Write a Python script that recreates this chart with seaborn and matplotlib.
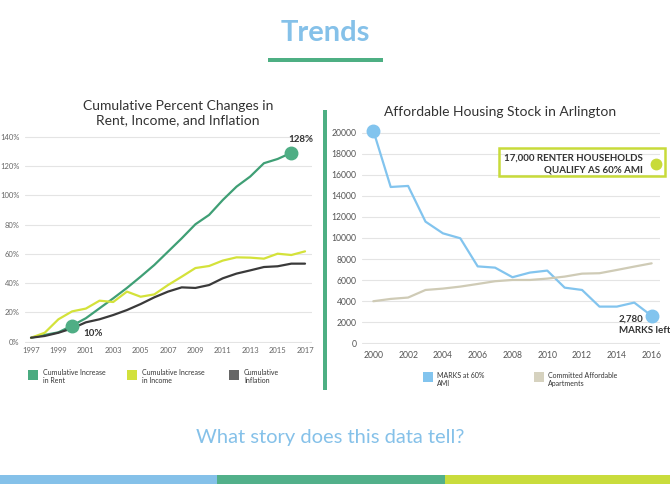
import pandas as pd
import matplotlib.pyplot as plt
import seaborn as sns
from matplotlib.patches import Rectangle

# left chart: cumulative % change since 1997
years_left = list(range(1997, 2018))
rent = [2.7, 4.6, 6.4, 11.0, 16.0, 22.8, 29.6, 36.7, 44.4, 52.4,
        61.5, 70.6, 80.2, 86.6, 96.8, 105.9, 112.8, 121.9, 124.8, 129.0]
income = [2.7, 6.1, 15.3, 20.7, 22.6, 28.0, 27.1, 34.2, 30.7, 32.3,
          38.7, 44.4, 50.3, 51.7, 55.4, 57.6, 57.4, 56.7, 60.1, 59.2, 61.7]
inflation = [2.7, 3.9, 6.1, 9.1, 13.2, 15.3, 18.2, 21.6, 25.7, 30.3,
             34.2, 37.1, 36.7, 38.7, 43.3, 46.5, 48.7, 51.0, 51.5, 53.3, 53.3]
left_labels = ["Cumulative Increase\nin Rent", "Cumulative Increase\nin Income",
               "Cumulative\nInflation"]

# right chart: affordable housing stock
years_right = list(range(2000, 2017))
marks = [20200, 14840, 14940, 11550, 10440, 9970, 7300, 7180, 6270, 6710,
         6900, 5280, 5060, 3480, 3480, 3860, 2600]
committed = [3990, 4210, 4340, 5060, 5190, 5380, 5630, 5890, 6010, 6010,
             6140, 6330, 6610, 6650, 6960, 7280, 7590]
right_labels = ["MARKS at 60%\nAMI", "Committed Affordable\nApartments"]
qualify_households = 17000

GREEN = "#3f9f75"
YELLOW = "#d4e23a"
DARK = "#3a3a3a"
BLUE = "#82c4ee"
BEIGE = "#cfcbb6"
LIME = "#c8db3a"
TXT = "#333333"

sns.set_theme(style="white")
plt.rcParams['font.family'] = ['Lato', 'DejaVu Sans']

W, H = 670, 484
fig = plt.figure(figsize=(6.7, 4.84), dpi=100)


def box(x0, y0, x1, y1):
    # pixel box (top-left origin) -> figure fraction rect
    return [x0 / W, 1 - y1 / H, (x1 - x0) / W, (y1 - y0) / H]


def fp(x, y):
    return x / W, 1 - y / H


# ---- left chart
df_left = pd.concat([
    pd.DataFrame({"year": years_left[:len(rent)], "value": rent, "series": left_labels[0]}),
    pd.DataFrame({"year": years_left, "value": income, "series": left_labels[1]}),
    pd.DataFrame({"year": years_left, "value": inflation, "series": left_labels[2]}),
])
ax1 = fig.add_axes(box(25, 135.7, 312, 342.7))
sns.lineplot(data=df_left, x="year", y="value", hue="series",
             palette=[GREEN, YELLOW, DARK], linewidth=1.6, ax=ax1, legend=False)
ax1.set_xlim(1996.56, 2017.51)
ax1.set_ylim(-0.7, 140.7)
ax1.set_yticks(range(0, 141, 20))
ax1.set_yticklabels([f"{v}%" for v in range(0, 141, 20)])
ax1.set_xticks(range(1997, 2018, 2))
ax1.yaxis.grid(True, color="#e4e4e4", lw=0.8)
ax1.set_axisbelow(True)
ax1.set_xlabel("")
ax1.set_ylabel("")
sns.despine(ax=ax1, left=True, bottom=True)
ax1.tick_params(axis="y", length=0, labelsize=5.5, labelcolor="#666666", pad=4)
ax1.tick_params(axis="x", length=0, labelsize=5.5, labelcolor="#666666", pad=3)

ax1.plot(years_left[3], rent[3], "o", ms=9, color="#4fae85", zorder=5, clip_on=False)
ax1.plot(years_left[len(rent) - 1], rent[-1], "o", ms=9, color="#4fae85", zorder=5, clip_on=False)
ax1.annotate("10%", (years_left[3], rent[3]), xytext=(8, -5.5), textcoords="offset points",
             ha="left", va="center", fontsize=7, fontweight="bold", color=TXT)
ax1.annotate("128%", (years_left[len(rent) - 1], rent[-1]), xytext=(7, 9.5),
             textcoords="offset points", ha="center", va="center", fontsize=7,
             fontweight="bold", color=TXT, annotation_clip=False)

fig.text(*fp(178, 113.5), "Cumulative Percent Changes in\nRent, Income, and Inflation",
         ha="center", va="center", fontsize=10, color=TXT)

# ---- right chart
df_right = pd.concat([
    pd.DataFrame({"year": years_right, "value": marks, "series": right_labels[0]}),
    pd.DataFrame({"year": years_right, "value": committed, "series": right_labels[1]}),
])
ax2 = fig.add_axes(box(362, 131.6, 660, 344.3))
sns.lineplot(data=df_right, x="year", y="value", hue="series",
             palette=[BLUE, BEIGE], linewidth=1.6, ax=ax2, legend=False)
ax2.set_xlim(1999.35, 2016.48)
ax2.set_ylim(-100, 20100)
ax2.set_yticks(range(0, 20001, 2000))
ax2.set_xticks(range(2000, 2017, 2))
ax2.yaxis.grid(True, color="#e4e4e4", lw=0.8)
ax2.set_axisbelow(True)
ax2.set_xlabel("")
ax2.set_ylabel("")
sns.despine(ax=ax2, left=True, bottom=True)
ax2.tick_params(axis="y", length=0, labelsize=6.2, labelcolor="#555555", pad=4)
ax2.tick_params(axis="x", length=0, labelsize=6.2, labelcolor="#555555", pad=4.5)

ax2.plot(years_right[0], marks[0], "o", ms=9, color=BLUE, zorder=5, clip_on=False)
ax2.plot(years_right[-1], marks[-1], "o", ms=9, color=BLUE, zorder=5, clip_on=False)
ax2.annotate("19,900 MARKS", (years_right[0], marks[0]), xytext=(8, 0),
             textcoords="offset points", ha="left", va="center", fontsize=7,
             fontweight="bold", color=TXT)
ax2.annotate("2,780\nMARKS left", (years_right[-1], marks[-1]), xytext=(-23.5, 1),
             textcoords="offset points", ha="left", va="top", fontsize=7,
             fontweight="bold", color=TXT, linespacing=1.3, annotation_clip=False)
ax2.plot(years_right[-1] + 0.25, qualify_households, "o", ms=7.5, color=LIME,
         zorder=5, clip_on=False)
ax2.annotate("17,000 RENTER HOUSEHOLDS\nQUALIFY AS 60% AMI",
             (years_right[-1] + 0.25, qualify_households), xytext=(-9.5, 0),
             textcoords="offset points", ha="right", va="center", fontsize=7,
             fontweight="bold", color=TXT, linespacing=1.35, annotation_clip=False)
fig.add_artist(Rectangle(fp(499, 176), 166 / W, 28 / H, transform=fig.transFigure,
                         fill=False, edgecolor=LIME, lw=1.8))

fig.text(*fp(500, 112), "Affordable Housing Stock in Arlington",
         ha="center", va="center", fontsize=10, color=TXT)

# ---- legends
for x, c, lab in zip([28, 127, 229], ["#4aab80", "#d2e13c", "#666666"], left_labels):
    fig.add_artist(Rectangle(fp(x, 380), 10 / W, 10 / H, transform=fig.transFigure,
                             facecolor=c, edgecolor="none"))
    fig.text(*fp(x + 15, 376.5), lab, ha="left", va="center", fontsize=5,
             color=TXT, linespacing=1.25)
for x, c, lab in zip([423, 534], [BLUE, "#d6d2bf"], right_labels):
    fig.add_artist(Rectangle(fp(x, 382), 10 / W, 10 / H, transform=fig.transFigure,
                             facecolor=c, edgecolor="none"))
    fig.text(*fp(x + 14, 379.5), lab, ha="left", va="center", fontsize=5,
             color=TXT, linespacing=1.25)

# ---- page furniture
fig.text(*fp(325, 33), "Trends", ha="center", va="center", fontsize=21,
         fontweight="bold", color="#85c1e9")
fig.add_artist(Rectangle(fp(268, 62), 115 / W, 4 / H, transform=fig.transFigure,
                         facecolor="#4daf83", edgecolor="none"))
fig.add_artist(Rectangle(fp(323, 390), 4 / W, 280 / H, transform=fig.transFigure,
                         facecolor="#4daf83", edgecolor="none"))
fig.text(*fp(330, 437), "What story does this data tell?", ha="center", va="center",
         fontsize=14.5, color="#85c1e9")
for x0, x1, c in [(0, 217, "#85c1e9"), (217, 445, "#52b08a"), (445, 670, "#c9dc3c")]:
    fig.add_artist(Rectangle(fp(x0, 484), (x1 - x0) / W, 9 / H, transform=fig.transFigure,
                             facecolor=c, edgecolor="none"))

fig.savefig("out.png", dpi=100)
